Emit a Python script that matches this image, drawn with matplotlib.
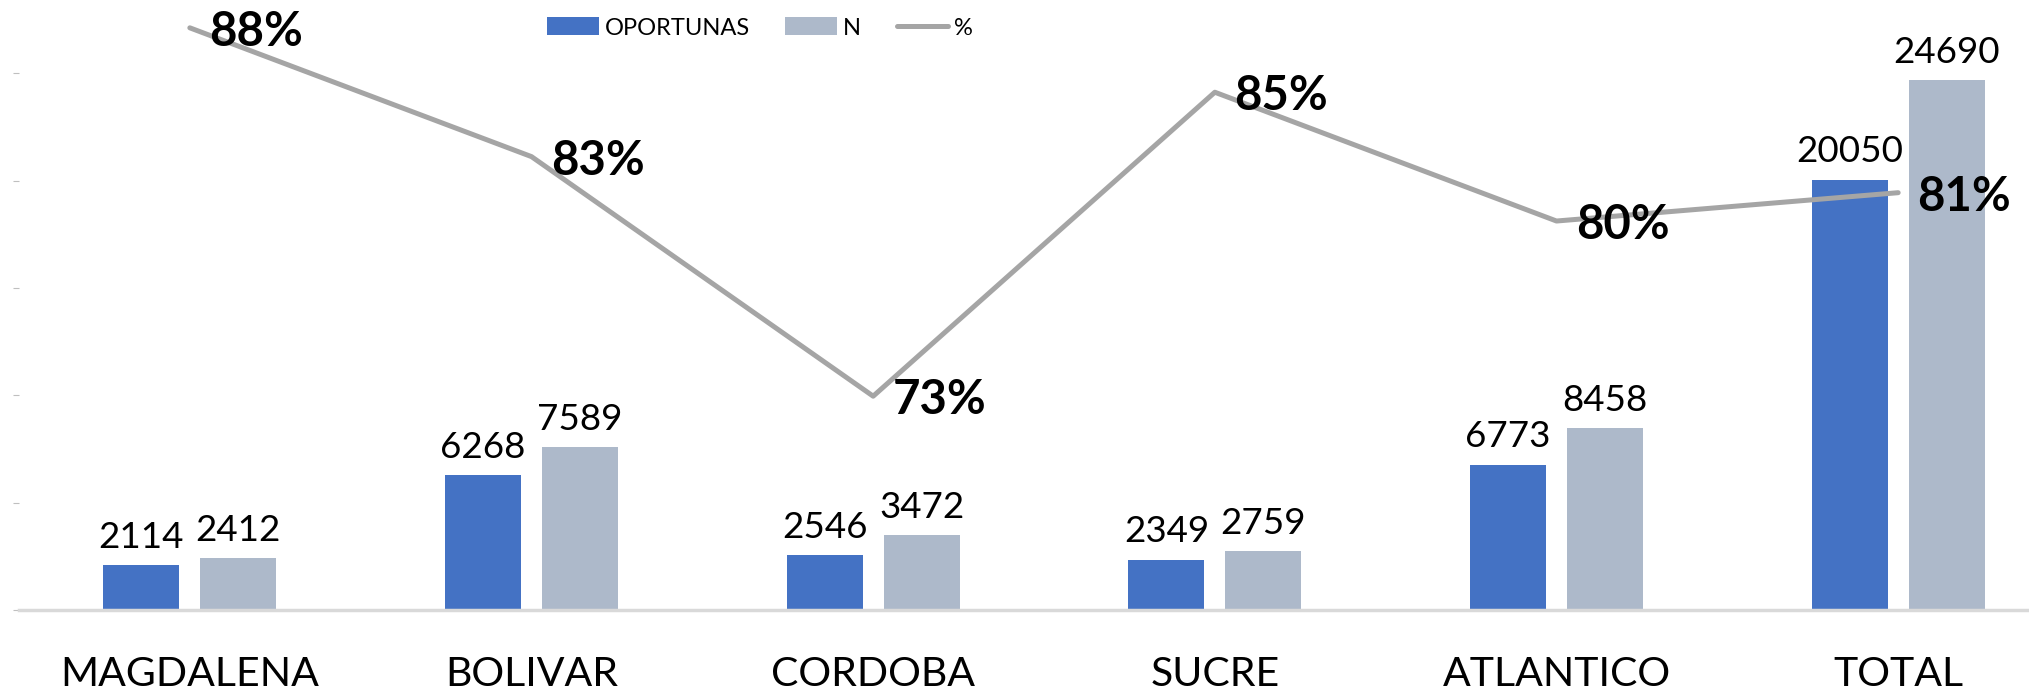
import matplotlib.pyplot as plt
import numpy as np

plt.rcParams['font.family'] = ['Lato', 'DejaVu Sans']

# Data
categories = ["MAGDALENA", "BOLIVAR", "CORDOBA", "SUCRE", "ATLANTICO", "TOTAL"]
oportunas = [2114, 6268, 2546, 2349, 6773, 20050]
n_total = [2412, 7589, 3472, 2759, 8458, 24690]
pct = [0.876, 0.826, 0.733, 0.851, 0.801, 0.812]
pct_labels = ["88%", "83%", "73%", "85%", "80%", "81%"]

W, H = 2029, 694
fig = plt.figure(figsize=(W / 100, H / 100), dpi=100)
# plot area extends slightly beyond the canvas (cropped like the original)
ax = fig.add_axes([19 / W, 84 / H, 2050 / W, 644 / H])
ax2 = ax.twinx()

x = np.arange(len(categories))
bw = 0.223
off = 0.142
b1 = ax.bar(x - off, oportunas, bw, color="#4472C4", label="OPORTUNAS", zorder=2)
b2 = ax.bar(x + off, n_total, bw, color="#ADB9CA", label="N", zorder=2)

for bars in (b1, b2):
    for r in bars:
        ax.annotate(f"{int(r.get_height())}", (r.get_x() + r.get_width() / 2, r.get_height()),
                    xytext=(0, 8), textcoords="offset points", ha="center", va="bottom",
                    fontsize=26.5, color="black")

ax.set_xlim(-0.5, len(categories) - 0.5)
ax.set_ylim(0, 30000)
ax.set_yticks(range(0, 30001, 5000))
ax.tick_params(axis="y", length=4, color="#BFBFBF", labelleft=False)
ax.tick_params(axis="x", length=0, labelsize=29.5, pad=33)
ax.set_xticks(x)
ax.set_xticklabels(categories)
for s in ("top", "right", "left"):
    ax.spines[s].set_visible(False)
ax.spines["bottom"].set_color("#D9D9D9")
ax.spines["bottom"].set_linewidth(2.5)

line, = ax2.plot(x, pct, color="#A5A5A5", linewidth=3.6, label="%", zorder=3,
                 solid_capstyle="round")
ax2.set_ylim(0.65, 0.90)
ax2.set_yticks([])
for s in ("top", "right", "left", "bottom"):
    ax2.spines[s].set_visible(False)
for xi, p, lab in zip(x, pct, pct_labels):
    ax2.annotate(lab, (xi, p), xytext=(14, -3), textcoords="offset points",
                 ha="left", va="center", fontsize=34, fontweight="bold", color="black")

fig.legend(handles=[b1, b2, line], labels=["OPORTUNAS", "N", "%"],
           loc="center", bbox_to_anchor=(760 / W, 1 - 28 / H), ncol=3, frameon=False,
           fontsize=17, handlelength=2.2, handleheight=0.8, columnspacing=1.5,
           handletextpad=0.25)

fig.savefig("out.png", dpi=100)
